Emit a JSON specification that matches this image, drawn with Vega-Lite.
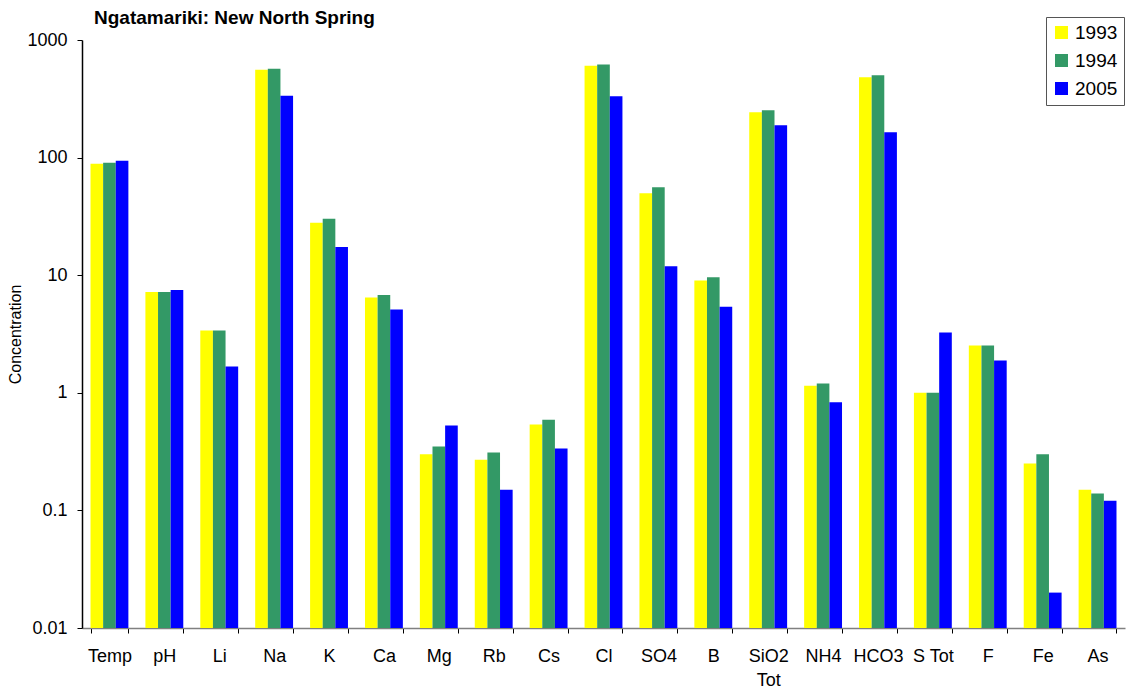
{
  "$schema": "https://vega.github.io/schema/vega-lite/v6.json",
  "width": 1043,
  "height": 588,
  "autosize": "none",
  "padding": {"left": 82, "top": 40, "right": 2, "bottom": 65},
  "background": "white",
  "title": {
    "text": "Ngatamariki: New North Spring",
    "anchor": "start",
    "frame": "group",
    "font": "Liberation Sans",
    "fontSize": 19,
    "fontWeight": "bold",
    "color": "black",
    "dx": 12,
    "dy": 11,
    "offset": 0
  },
  "data": {
    "values": [
      {"analyte": "Temp", "year": "1993", "value": 88.6},
      {"analyte": "Temp", "year": "1994", "value": 90.5},
      {"analyte": "Temp", "year": "2005", "value": 94},
      {"analyte": "pH", "year": "1993", "value": 7.2},
      {"analyte": "pH", "year": "1994", "value": 7.2},
      {"analyte": "pH", "year": "2005", "value": 7.5},
      {"analyte": "Li", "year": "1993", "value": 3.39},
      {"analyte": "Li", "year": "1994", "value": 3.39},
      {"analyte": "Li", "year": "2005", "value": 1.67},
      {"analyte": "Na", "year": "1993", "value": 558},
      {"analyte": "Na", "year": "1994", "value": 570},
      {"analyte": "Na", "year": "2005", "value": 335},
      {"analyte": "K", "year": "1993", "value": 27.9},
      {"analyte": "K", "year": "1994", "value": 30.2},
      {"analyte": "K", "year": "2005", "value": 17.4},
      {"analyte": "Ca", "year": "1993", "value": 6.45},
      {"analyte": "Ca", "year": "1994", "value": 6.8},
      {"analyte": "Ca", "year": "2005", "value": 5.1},
      {"analyte": "Mg", "year": "1993", "value": 0.3},
      {"analyte": "Mg", "year": "1994", "value": 0.35},
      {"analyte": "Mg", "year": "2005", "value": 0.527},
      {"analyte": "Rb", "year": "1993", "value": 0.27},
      {"analyte": "Rb", "year": "1994", "value": 0.31},
      {"analyte": "Rb", "year": "2005", "value": 0.15},
      {"analyte": "Cs", "year": "1993", "value": 0.537},
      {"analyte": "Cs", "year": "1994", "value": 0.59},
      {"analyte": "Cs", "year": "2005", "value": 0.336},
      {"analyte": "Cl", "year": "1993", "value": 605},
      {"analyte": "Cl", "year": "1994", "value": 620},
      {"analyte": "Cl", "year": "2005", "value": 332},
      {"analyte": "SO4", "year": "1993", "value": 49.7},
      {"analyte": "SO4", "year": "1994", "value": 55.9},
      {"analyte": "SO4", "year": "2005", "value": 11.9},
      {"analyte": "B", "year": "1993", "value": 9.0},
      {"analyte": "B", "year": "1994", "value": 9.6},
      {"analyte": "B", "year": "2005", "value": 5.4},
      {"analyte": "SiO2 Tot", "year": "1993", "value": 243},
      {"analyte": "SiO2 Tot", "year": "1994", "value": 253},
      {"analyte": "SiO2 Tot", "year": "2005", "value": 188},
      {"analyte": "NH4", "year": "1993", "value": 1.15},
      {"analyte": "NH4", "year": "1994", "value": 1.2},
      {"analyte": "NH4", "year": "2005", "value": 0.83},
      {"analyte": "HCO3", "year": "1993", "value": 482},
      {"analyte": "HCO3", "year": "1994", "value": 502},
      {"analyte": "HCO3", "year": "2005", "value": 164},
      {"analyte": "S Tot", "year": "1993", "value": 1.0},
      {"analyte": "S Tot", "year": "1994", "value": 1.0},
      {"analyte": "S Tot", "year": "2005", "value": 3.26},
      {"analyte": "F", "year": "1993", "value": 2.52},
      {"analyte": "F", "year": "1994", "value": 2.52},
      {"analyte": "F", "year": "2005", "value": 1.88},
      {"analyte": "Fe", "year": "1993", "value": 0.25},
      {"analyte": "Fe", "year": "1994", "value": 0.3},
      {"analyte": "Fe", "year": "2005", "value": 0.02},
      {"analyte": "As", "year": "1993", "value": 0.15},
      {"analyte": "As", "year": "1994", "value": 0.139},
      {"analyte": "As", "year": "2005", "value": 0.121}
    ]
  },
  "mark": {"type": "bar"},
  "encoding": {
    "x": {
      "field": "analyte",
      "type": "nominal",
      "sort": null,
      "scale": {"paddingInner": 0.31, "paddingOuter": 0.155},
      "axis": {
        "title": null,
        "labelAngle": 0,
        "labelFont": "Liberation Sans",
        "labelFontSize": 18,
        "labelColor": "black",
        "labelPadding": 14,
        "labelExpr": "datum.label == 'SiO2 Tot' ? ['SiO2', 'Tot'] : datum.label",
        "labelLineHeight": 24,
        "tickBand": "extent",
        "tickSize": 5,
        "tickColor": "black",
        "domainColor": "#808080",
        "domainWidth": 1.5,
        "grid": false
      }
    },
    "xOffset": {"field": "year", "type": "nominal", "scale": {"paddingInner": 0, "paddingOuter": 0}},
    "y": {
      "field": "value",
      "type": "quantitative",
      "stack": null,
      "scale": {"type": "log", "domain": [0.01, 1000], "nice": false},
      "axis": {
        "title": "Concentration",
        "titleFont": "Liberation Sans",
        "titleFontSize": 16,
        "titleFontWeight": "normal",
        "titleColor": "black",
        "titlePadding": 3,
        "values": [0.01, 0.1, 1, 10, 100, 1000],
        "format": "~g",
        "labelFont": "Liberation Sans",
        "labelFontSize": 18,
        "labelColor": "black",
        "labelPadding": 10,
        "tickSize": 5,
        "tickColor": "black",
        "domainColor": "black",
        "domainWidth": 1.5,
        "grid": false
      }
    },
    "color": {
      "field": "year",
      "type": "nominal",
      "scale": {"domain": ["1993", "1994", "2005"], "range": ["#FFFF00", "#339966", "#0000FF"]},
      "legend": {
        "title": null,
        "orient": "none",
        "legendX": 964,
        "legendY": -23,
        "padding": 6,
        "strokeColor": "#555555",
        "fillColor": "white",
        "symbolType": "square",
        "symbolSize": 169,
        "symbolStrokeWidth": 0,
        "labelFont": "Liberation Sans",
        "labelFontSize": 19,
        "labelColor": "black",
        "rowPadding": 8,
        "labelOffset": 4
      }
    }
  },
  "config": {"view": {"stroke": null}}
}
